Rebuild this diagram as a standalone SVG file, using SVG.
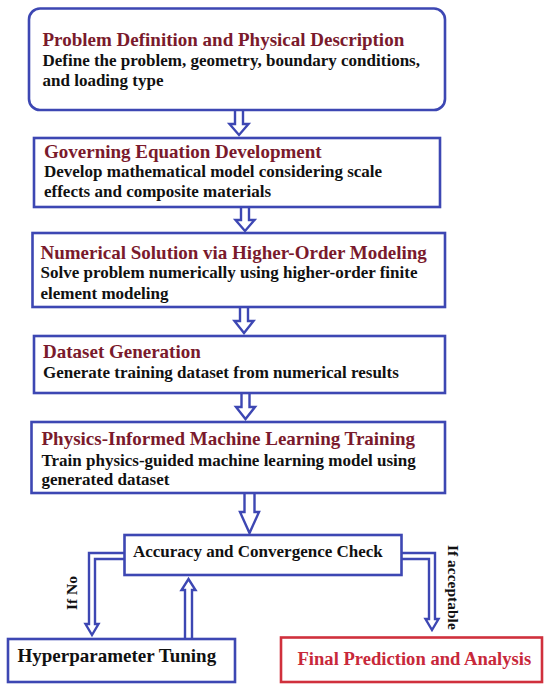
<svg xmlns="http://www.w3.org/2000/svg" width="550" height="693" viewBox="0 0 550 693">
<style>
.box{fill:#fff;stroke:#3d47b3;stroke-width:2.6}
.rbox{fill:#fff;stroke:#d0303c;stroke-width:2.6}
.arr{fill:#fff;stroke:#3d47b3;stroke-width:2.4;stroke-linejoin:miter}
.t{font-family:"Liberation Serif","Times New Roman",serif;font-weight:bold;font-size:19px;fill:#7a1a2c}
.b{font-family:"Liberation Serif","Times New Roman",serif;font-weight:bold;font-size:17px;fill:#111}
.h{font-family:"Liberation Serif","Times New Roman",serif;font-weight:bold;font-size:19px;fill:#111}
.f{font-family:"Liberation Serif","Times New Roman",serif;font-weight:bold;font-size:18.6px;fill:#c8283a}
.lab{font-family:"Liberation Serif","Times New Roman",serif;font-weight:bold;font-size:15.5px;fill:#111}
</style>
<rect width="550" height="693" fill="#fff"/>
<g id="connectors">
<path class="arr" d="M235,110 V124 H229.5 L239,135 L248.5,124 H243 V110"/>
<path class="arr" d="M241,207 V220 H235.5 L245,231 L254.5,220 H249 V207"/>
<path class="arr" d="M240,307 V321 H234.5 L244,333 L253.5,321 H248 V307"/>
<path class="arr" d="M241.5,393 V407 H236 L245.5,419 L255,407 H249.5 V393"/>
<path class="arr" d="M244.5,493 V512 H240 L249.5,533 L259,512 H254.5 V493"/>
<path class="arr" d="M124,553 H89 V624 H85.5 L92,635 L98.5,624 H95 V559 H124"/>
<path class="arr" d="M402,553 H435 V619 H438.5 L432,630 L425.5,619 H429 V559 H402"/>
<path class="arr" d="M185,639 V590 H181.5 L188.5,579 L195.5,590 H192 V639"/>
</g>
<g id="n1">
<rect class="box" x="29" y="8.5" width="416" height="101.5" rx="11"/>
<text class="t" x="42.5" y="46">Problem Definition and Physical Description</text>
<text class="b" x="42.5" y="66">Define the problem, geometry, boundary conditions,</text>
<text class="b" x="42.5" y="86">and loading type</text>
</g>
<g id="n2">
<rect class="box" x="34" y="138" width="406" height="69"/>
<text class="t" x="44" y="158">Governing Equation Development</text>
<text class="b" x="44" y="177">Develop mathematical model considering scale</text>
<text class="b" x="44" y="197">effects and composite materials</text>
</g>
<g id="n3">
<rect class="box" x="32.5" y="233" width="412.5" height="74"/>
<text class="t" x="40.5" y="259">Numerical Solution via Higher-Order Modeling</text>
<text class="b" x="40.5" y="278">Solve problem numerically using higher-order finite</text>
<text class="b" x="40.5" y="299">element modeling</text>
</g>
<g id="n4">
<rect class="box" x="34" y="336" width="411" height="57"/>
<text class="t" x="43" y="358">Dataset Generation</text>
<text class="b" x="43" y="378">Generate training dataset from numerical results</text>
</g>
<g id="n5">
<rect class="box" x="31.5" y="422" width="413.5" height="71"/>
<text class="t" x="41.5" y="445">Physics-Informed Machine Learning Training</text>
<text class="b" x="41.5" y="466">Train physics-guided machine learning model using</text>
<text class="b" x="41.5" y="485">generated dataset</text>
</g>
<g id="n6">
<rect class="box" x="124.5" y="535" width="277" height="40"/>
<text class="b" x="133" y="557">Accuracy and Convergence Check</text>
</g>
<g id="n7">
<rect class="box" x="8" y="639" width="227" height="43"/>
<text class="h" x="17.5" y="662">Hyperparameter Tuning</text>
</g>
<g id="n8">
<rect class="rbox" x="281" y="637.5" width="261" height="44.5"/>
<text class="f" x="297.5" y="665">Final Prediction and Analysis</text>
</g>
<g id="labels">
<text class="lab" transform="translate(77,610) rotate(-90)">If No</text>
<text class="lab" transform="translate(447.5,545) rotate(90)">If acceptable</text>
</g>
</svg>
